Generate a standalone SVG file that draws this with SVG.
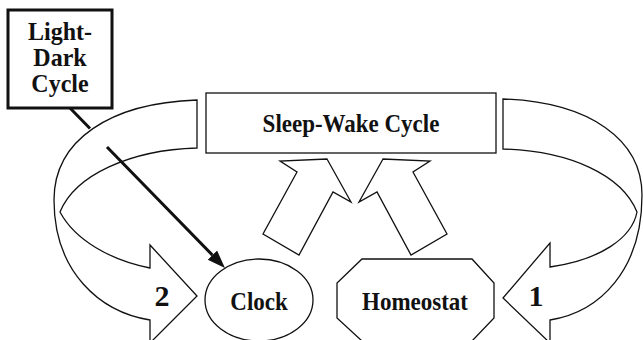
<svg xmlns="http://www.w3.org/2000/svg" width="643" height="340" viewBox="0 0 643 340">
<defs>
<style>
.shape{fill:#fff;stroke:#111;stroke-width:1.3;stroke-linejoin:miter}
.lbl{font-family:"Liberation Serif","Times New Roman",serif;font-weight:bold;fill:#111;text-anchor:middle}
.num{font-family:"Liberation Serif","Times New Roman",serif;font-weight:bold;fill:#111;text-anchor:middle;font-size:30px}
</style>
<marker id="ah" markerUnits="userSpaceOnUse" markerWidth="20" markerHeight="16" refX="0" refY="7" orient="auto" viewBox="0 0 20 14">
<path d="M0,0.5 L18,7 L0,13.5 z" fill="#111"/>
</marker>
</defs>
<rect width="643" height="340" fill="#fff"/>
<g id="connectors">
<path id="arrow-2" class="shape" d="M197,100 C110,103 54,140 54,200 C54,272 100,312 150,320 L150,343 L197,296 L150,245 L150,268 C110,260 75,240 60,212 C75,175 130,150 197,148 Z"/>
<path id="arrow-1" class="shape" d="M503,99 C590,102 642,140 642,195 C642,270 600,312 550,320 L550,343 L503,298 L550,243 L550,267 C600,260 632,238 637,212 C622,175 570,151 503,149 Z"/>
<path id="up-left" class="shape" d="M327,159 L351,202 L333,192 L299,255 L263,234 L297,172 L280,161 Z"/>
<path id="up-right" class="shape" d="M383,159 L359,202 L377,192 L411,255 L447,234 L413,172 L430,161 Z"/>
<path id="light-to-clock" d="M70,108 L90,128.5 M107,147 L212.4,255.1" fill="none" stroke="#111" stroke-width="3" marker-end="url(#ah)"/>
<text class="num" x="162" y="306">2</text>
<text class="num" x="536" y="306">1</text>
</g>
<g id="light-dark">
<rect x="8" y="10" width="104" height="98" fill="#fff" stroke="#111" stroke-width="3"/>
<text class="lbl" font-size="24" transform="translate(60,40) scale(1,1.05)">Light-</text>
<text class="lbl" font-size="24" transform="translate(60,66) scale(1,1.05)">Dark</text>
<text class="lbl" font-size="24" transform="translate(60,92) scale(1,1.05)">Cycle</text>
</g>
<g id="sleep-wake">
<rect class="shape" x="206" y="93" width="290" height="60"/>
<text class="lbl" font-size="23" transform="translate(351,132) scale(1,1.1)">Sleep-Wake Cycle</text>
</g>
<g id="clock">
<ellipse class="shape" cx="259" cy="300" rx="54" ry="41"/>
<text class="lbl" font-size="23" transform="translate(259,310) scale(1,1.1)">Clock</text>
</g>
<g id="homeostat">
<path class="shape" d="M362,259 L472,259 L494,283 L494,318 L472,341 L362,341 L337,318 L337,283 Z"/>
<text class="lbl" font-size="23" transform="translate(415,310) scale(1,1.1)">Homeostat</text>
</g>
</svg>
